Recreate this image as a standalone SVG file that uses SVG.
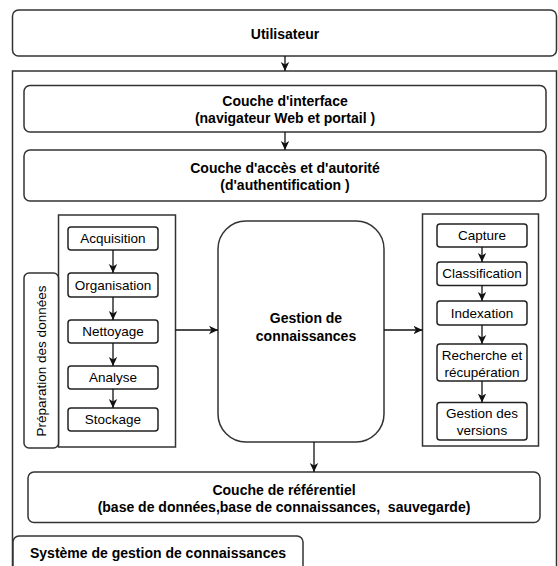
<svg xmlns="http://www.w3.org/2000/svg" width="558" height="566" viewBox="0 0 558 566">
<style>
.box{fill:#fff;stroke:#333;stroke-width:1.5}
.sm{fill:#fff;stroke:#222;stroke-width:1.5}
.t{font-family:"Liberation Sans",Arial,sans-serif;font-size:13.5px;fill:#000;text-anchor:middle;dominant-baseline:central}
.b{font-weight:bold;font-size:14px}
.c line{stroke:#111;stroke-width:1.3;marker-end:url(#ah)}
</style>
<defs>
<marker id="ah" markerUnits="userSpaceOnUse" markerWidth="10" markerHeight="10" refX="9" refY="5" orient="auto">
<path d="M0,0.8 L9,5 L0,9.2 L2.5,5 Z" fill="#111"/>
</marker>
</defs>
<rect width="558" height="566" fill="#fff"/>
<g id="utilisateur"><rect class="box" x="12.5" y="10" width="544" height="46" rx="6"/><text class="t b" x="285" y="34">Utilisateur</text></g>
<g id="systeme-container"><rect class="box" x="12.5" y="71" width="544" height="510" fill="none"/></g>
<g id="interface"><rect class="box" x="24" y="85.5" width="522" height="46.5" rx="6"/><text class="t b" x="285" y="101">Couche d'interface</text><text class="t b" x="285" y="118">(navigateur Web et portail )</text></g>
<g id="acces"><rect class="box" x="24" y="150" width="522" height="51" rx="6"/><text class="t b" x="285" y="168">Couche d'accès et d'autorité</text><text class="t b" x="285" y="185">(d'authentification )</text></g>
<g id="preparation"><rect class="box" x="58.5" y="215" width="117" height="232"/></g>
<g id="preparation-label"><rect class="box" x="24" y="273" width="34.5" height="175" rx="5"/><text class="t" transform="translate(41.5,361) rotate(-90)" x="0" y="0">Préparation des données</text></g>
<g id="acquisition"><rect class="sm" x="68" y="227" width="90" height="23" rx="3"/><text class="t" x="113" y="238.5">Acquisition</text></g>
<g id="organisation"><rect class="sm" x="68" y="273" width="90" height="24" rx="3"/><text class="t" x="113" y="285">Organisation</text></g>
<g id="nettoyage"><rect class="sm" x="68" y="320" width="90" height="23" rx="3"/><text class="t" x="113" y="331.5">Nettoyage</text></g>
<g id="analyse"><rect class="sm" x="68" y="366" width="90" height="23" rx="3"/><text class="t" x="113" y="377.5">Analyse</text></g>
<g id="stockage"><rect class="sm" x="68" y="408" width="90" height="23" rx="3"/><text class="t" x="113" y="419.5">Stockage</text></g>
<g id="gestion"><rect class="box" x="218" y="221" width="166" height="221" rx="28"/><text class="t b" x="306" y="318">Gestion de</text><text class="t b" x="306" y="336">connaissances</text></g>
<g id="gestion-group"><rect class="box" x="422.5" y="214" width="116" height="232"/></g>
<g id="capture"><rect class="sm" x="437" y="224" width="90" height="23" rx="3"/><text class="t" x="482" y="235.5">Capture</text></g>
<g id="classification"><rect class="sm" x="437" y="262" width="90" height="23.5" rx="3"/><text class="t" x="482" y="273.7">Classification</text></g>
<g id="indexation"><rect class="sm" x="437" y="301" width="90" height="24" rx="3"/><text class="t" x="482" y="313">Indexation</text></g>
<g id="recherche"><rect class="sm" x="437" y="344" width="90" height="37" rx="3"/><text class="t" x="482" y="355.5">Recherche et</text><text class="t" x="482" y="372">récupération</text></g>
<g id="versions"><rect class="sm" x="437" y="402.5" width="90" height="37.5" rx="3"/><text class="t" x="482" y="413">Gestion des</text><text class="t" x="482" y="430">versions</text></g>
<g id="referentiel"><rect class="box" x="28" y="472" width="512" height="50.5" rx="6"/><text class="t b" x="284" y="490">Couche de référentiel</text><text class="t b" x="284" y="507" xml:space="preserve" style="white-space:pre">(base de données,base de connaissances,  sauvegarde)</text></g>
<g id="systeme-label"><rect class="box" x="13" y="536" width="290" height="45" rx="6"/><text class="t b" x="158" y="553">Système de gestion de connaissances</text></g>
<g id="connectors" class="c">
<line x1="285" y1="56" x2="285" y2="71"/>
<line x1="285" y1="132" x2="285" y2="150"/>
<line x1="113" y1="250" x2="113" y2="273"/>
<line x1="113" y1="297" x2="113" y2="320"/>
<line x1="113" y1="343" x2="113" y2="366"/>
<line x1="113" y1="389" x2="113" y2="408"/>
<line x1="175.5" y1="330" x2="218" y2="330"/>
<line x1="384" y1="330" x2="422.5" y2="330"/>
<line x1="482" y1="247" x2="482" y2="262"/>
<line x1="482" y1="285.5" x2="482" y2="301"/>
<line x1="482" y1="325" x2="482" y2="344"/>
<line x1="482" y1="381" x2="482" y2="402.5"/>
<line x1="314" y1="442" x2="314" y2="472"/>
</g>
</svg>
